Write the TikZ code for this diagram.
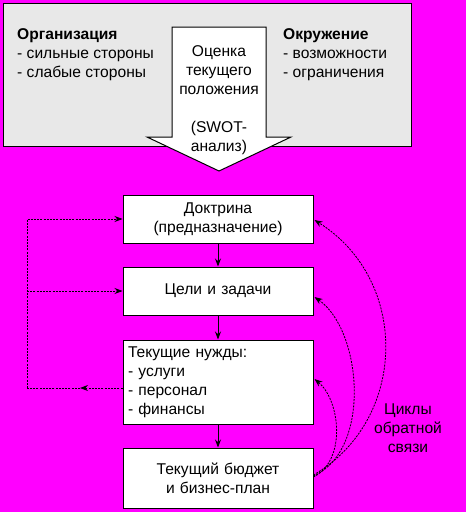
\documentclass[tikz,border=0pt]{standalone}
\usepackage{fontspec}
\setmainfont{Liberation Sans}
\usetikzlibrary{arrows.meta}
\definecolor{bgpink}{RGB}{255,0,255}
\definecolor{panelgrey}{RGB}{232,232,232}
\tikzset{
  stepbox/.style={draw,fill=white,line width=1pt,text width=180pt,inner sep=5pt,
    minimum height=48pt,align=center},
  fb/.style={line width=0.8pt,dash pattern=on 2pt off 1.2pt},
}
\begin{document}
\begin{tikzpicture}[x=1pt,y=-1pt,>={Stealth[length=8pt,width=6pt]},font=\fontsize{15.6}{19}\selectfont]
	  \useasboundingbox[fill=bgpink] (0,0) rectangle (466,512);
	  % swot panel
	  \draw[fill=panelgrey,line width=1pt] (3,3) rectangle (411,146);
	  \node[anchor=north west,align=left,inner sep=0pt] (org) at (17,28)
	    {\textbf{Организация}\\- сильные стороны\\- слабые стороны};
	  \node[anchor=north west,align=left,inner sep=0pt] (env) at (283,28)
	    {\textbf{Окружение}\\- возможности\\- ограничения};
	  \draw[fill=white,line width=1pt] (172,27) -- (266,27) -- (266,137) -- (291,137)
	    -- (219,171) -- (147,137) -- (172,137) -- cycle;
	  \node[align=center,inner sep=0pt] (swot) at (219,100)
	    {Оценка\\текущего\\положения\\\mbox{}\\(SWOT-\\анализ)};
	  % planning chain
	  \node[stepbox] (doc) at (218,219) {Доктрина\\(предназначение)};
	  \node[stepbox] (goal) at (218,291) {Цели и задачи};
	  \node[stepbox,minimum height=84pt,align=left] (need) at (218,382)
	    {Текущие нужды:\\- услуги\\- персонал\\- финансы};
	  \node[stepbox,minimum height=60pt] (budget) at (218,478) {Текущий бюджет\\и бизнес-план};
	  \draw[->,line width=1pt] (doc) -- (goal);
	  \draw[->,line width=1pt] (goal) -- (need);
	  \draw[->,line width=1pt] (need) -- (budget);
	  % left loop
	  \coordinate (lmid) at (80,388);
	  \coordinate (lb) at (27,388);
	  \coordinate (lm) at (27,291);
	  \coordinate (lt) at (27,219);
	  \draw[fb,->] ([yshift=-6pt]need.west) -- (lmid);
	  \draw[fb] (lmid) -- (lb);
	  \draw[fb,->] (lb) -- (lt) -- (doc.west);
	  \draw[fb,->] (lm) -- (goal.west);
	  % feedback loops
	  \draw[fb,->] ([yshift=3pt]budget.east) .. controls (408,420) and (410,280) .. ([yshift=-1pt,xshift=1pt]doc.east);
	  \draw[fb,->] ([yshift=2pt]budget.east) .. controls (372,450) and (362,330) .. ([yshift=-6pt,xshift=1pt]goal.east);
	  \draw[fb,->] ([yshift=1pt]budget.east) .. controls (347,460) and (340,400) .. ([yshift=3pt,xshift=1pt]need.east);
	  \node[align=center,inner sep=0pt] (loops) at (408,428) {Циклы\\обратной\\связи};
\end{tikzpicture}
\end{document}
